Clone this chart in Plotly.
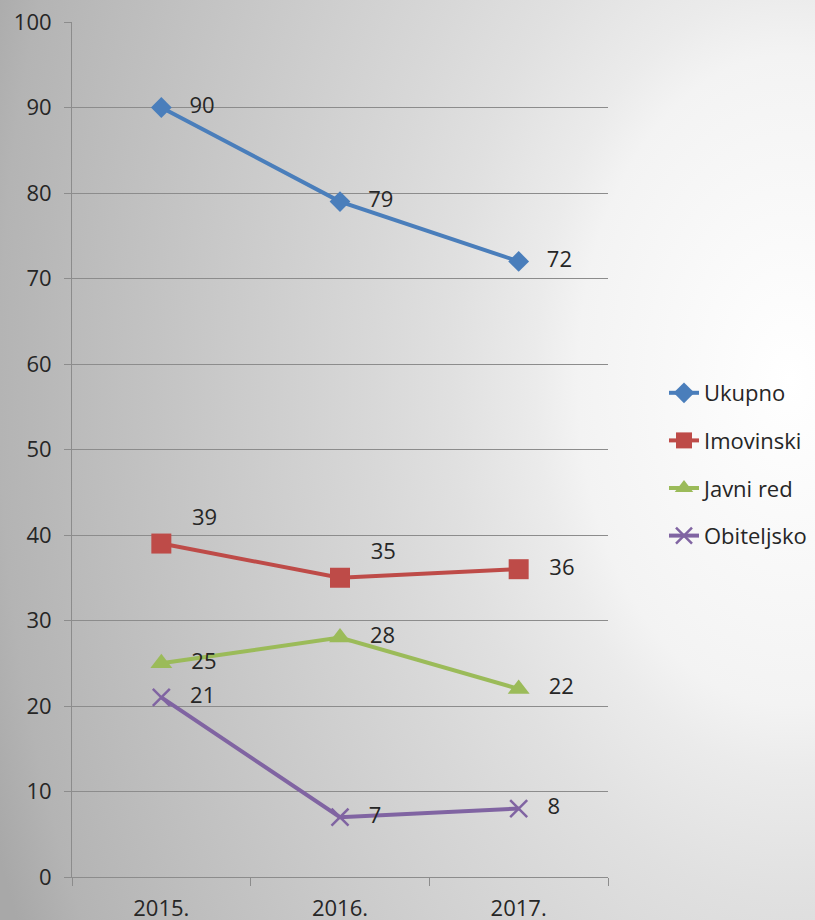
import plotly.graph_objects as go

years = ["2015.", "2016.", "2017."]
ukupno = [90, 79, 72]
imovinski = [39, 35, 36]
javni_red = [25, 28, 22]
obiteljsko = [21, 7, 8]

series = [
    ("Ukupno", ukupno, "#4a7ebb", "diamond", 16, ["middle right"] * 3),
    ("Imovinski", imovinski, "#be4b48", "square", 20, ["top right", "top right", "middle right"]),
    ("Javni red", javni_red, "#9bbb59", "triangle-up", 19, ["middle right"] * 3),
    ("Obiteljsko", obiteljsko, "#8064a2", "x-thin", 17, ["middle right"] * 3),
]

FONT = "'Open Sans', sans-serif"
TXT = "#262626"
GRID = "#8c8c8c"

fig = go.Figure()

# background radial gradient (decorative)
cx, cy, Rx, Ry = 790, 380, 850, 1300
fig.add_trace(go.Scatter(
    x=[cx - Rx, cx + Rx, cx + Rx, cx - Rx, cx - Rx],
    y=[cy - Ry, cy - Ry, cy + Ry, cy + Ry, cy - Ry],
    xaxis="x", yaxis="y",
    mode="lines", line=dict(width=0),
    fill="toself",
    fillgradient=dict(type="radial", colorscale=[
        [0, "#ffffff"], [0.25, "#f3f3f3"], [0.3, "#ebebeb"], [0.4, "#e0e0e0"],
        [0.49, "#d8d8d8"], [0.93, "#b4b4b4"], [1, "#a8a8a8"]]),
    hoverinfo="skip", showlegend=False,
))

for i, (name, vals, color, sym, size, tpos) in enumerate(series):
    marker = dict(symbol=sym, size=size, color=color)
    if sym == "x-thin":
        marker["line"] = dict(color=color, width=2.5)
    fig.add_trace(go.Scatter(
        x=years, y=vals, name=name, xaxis="x2", yaxis="y2",
        mode="lines+markers+text",
        line=dict(color=color, width=4),
        marker=marker,
        texttemplate="   %{y}",
        textposition=tpos,
        textfont=dict(family=FONT, size=22, color=TXT),
        legendgroup=name,
        cliponaxis=False,
    ))

fig.update_layout(
    width=815, height=920,
    margin=dict(l=0, r=0, t=0, b=0, autoexpand=False),
    paper_bgcolor="#ffffff",
    plot_bgcolor="rgba(0,0,0,0)",
    font=dict(family=FONT, size=22, color=TXT),
    xaxis=dict(domain=[0, 1], range=[0, 815], visible=False, fixedrange=True,
               automargin=False),
    yaxis=dict(domain=[0, 1], range=[920, 0], visible=False, fixedrange=True,
               automargin=False),
    xaxis2=dict(
        domain=[72 / 815, 608 / 815], anchor="y2", type="category",
        range=[-0.5, 2.5], tickson="boundaries", ticks="outside", ticklen=8,
        tickcolor=GRID, showline=True, linecolor=GRID, linewidth=1,
        showgrid=False, ticklabelstandoff=12, automargin=False,
        tickfont=dict(family=FONT, size=22, color=TXT),
    ),
    yaxis2=dict(
        domain=[(920 - 877) / 920, (920 - 22) / 920], anchor="x2",
        range=[0, 100], dtick=10, ticks="outside", ticklen=7,
        tickcolor=GRID, showline=True, linecolor=GRID, linewidth=1,
        showgrid=True, gridcolor=GRID, gridwidth=1, zeroline=False,
        ticklabelstandoff=8, automargin=False,
        tickfont=dict(family=FONT, size=22, color=TXT),
    ),
    legend=dict(
        x=664 / 815, y=1 - 372 / 920, xanchor="left", yanchor="top",
        bgcolor="rgba(0,0,0,0)", font=dict(family=FONT, size=22, color=TXT),
        tracegroupgap=16,
    ),
    showlegend=True,
)

fig.write_html("out.html", config={"displayModeBar": False},
               post_script="document.body.style.margin='0';")
